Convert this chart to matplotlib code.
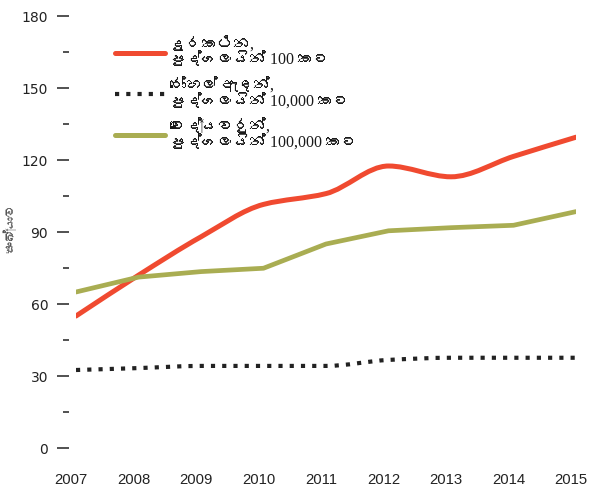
import numpy as np
import matplotlib
matplotlib.use('Agg')
import matplotlib.pyplot as plt
from matplotlib import font_manager
from matplotlib.ft2font import FT2Font
from matplotlib.path import Path
from matplotlib.patches import PathPatch

years = [2007, 2008, 2009, 2010, 2011, 2012, 2013, 2014, 2015]
phones = [55, 72, 88, 101.5, 106, 117.5, 113, 121.5, 129.5]
beds = [32.5, 33.3, 34.2, 34.2, 34.2, 36.7, 37.6, 37.6, 37.6]
doctors = [65, 71.2, 73.5, 74.9, 85, 90.5, 91.8, 92.8, 98.5]

labels = ['දුරකථන,\nපුද්ගලයින් 100 කට',
          'රෝහල් ඇඳන්,\nපුද්ගලයින් 10,000 කට',
          'වෛද්‍යවරුන්,\nපුද්ගලයින් 100,000 කට']
ylabel = 'සංඛ්‍යාව'
yticks = [0, 30, 60, 90, 120, 150, 180]

red = '#f04a30'
green = '#a9ad52'
black = '#222222'


# look for a font that can draw sinhala
def find_sinhala():
    seen = set()
    for f in font_manager.fontManager.ttflist:
        if f.fname in seen:
            continue
        seen.add(f.fname)
        try:
            cmap = FT2Font(f.fname).get_charmap()
            if 0x0D9A in cmap:
                return f.name, (0x200D in cmap)
        except Exception:
            pass
    return None, False


sin, has_zwj = find_sinhala()
if not has_zwj:
    labels = [s.replace('\u200d', '') for s in labels]
    ylabel = ylabel.replace('\u200d', '')
serif_fams = ['Liberation Serif'] + ([sin] if sin else []) + ['DejaVu Serif']
sans_fams = ['Liberation Sans'] + ([sin] if sin else []) + ['DejaVu Sans']


def monotone_path(x, y):
    # bezier path through the points with monotone slopes
    x = np.asarray(x, float)
    y = np.asarray(y, float)
    d = np.diff(y) / np.diff(x)
    m = np.zeros_like(y)
    m[0], m[-1] = d[0], d[-1]
    for i in range(1, len(y) - 1):
        if d[i - 1] * d[i] <= 0:
            m[i] = 0
        else:
            m[i] = 2 / (1 / d[i - 1] + 1 / d[i])
    verts = [(x[0], y[0])]
    codes = [Path.MOVETO]
    for i in range(len(x) - 1):
        h = (x[i + 1] - x[i]) / 3
        verts += [(x[i] + h, y[i] + m[i] * h),
                  (x[i + 1] - h, y[i + 1] - m[i + 1] * h),
                  (x[i + 1], y[i + 1])]
        codes += [Path.CURVE4] * 3
    return Path(verts, codes)


fig = plt.figure(figsize=(5.91, 4.91), dpi=100)
ax = fig.add_axes([76 / 591, 1 - 448 / 491, 500 / 591, 432 / 491])

p1 = PathPatch(monotone_path(years, phones), fill=False, edgecolor=red,
               lw=3.6, capstyle='round', joinstyle='round')
ax.add_patch(p1)
p2 = PathPatch(monotone_path(years, beds), fill=False, edgecolor=black,
               lw=3.0, linestyle=(0, (1, 1.7)), capstyle='butt')
ax.add_patch(p2)
ax.plot(years, doctors, color=green, lw=3.4, solid_capstyle='round',
        solid_joinstyle='round')

h1, = ax.plot([], [], color=red, lw=3.6, solid_capstyle='round')
h2, = ax.plot([], [], color=black, lw=3.0, linestyle=(0, (1, 1.7)))
h3, = ax.plot([], [], color=green, lw=3.6, solid_capstyle='round')
leg = ax.legend([h1, h2, h3], labels, loc='upper left',
                bbox_to_anchor=(0.078, 0.952), frameon=False,
                prop={'family': serif_fams, 'size': 11.5},
                handlelength=3.1, handletextpad=0.35, labelspacing=0.55,
                borderpad=0, borderaxespad=0)
for t in leg.get_texts():
    t.set_linespacing(0.95)
    t.set_color('#1a1a1a')

ax.set_xlim(2007, 2015)
ax.set_ylim(0, 180)
ax.set_yticks(yticks)
ax.set_yticks(np.arange(15, 180, 30), minor=True)
ax.set_yticklabels([str(v) for v in yticks], family='Liberation Sans',
                   fontsize=12)
ax.set_xticks([])
# year labels, set a little left of their points
for yr in years:
    ax.annotate(str(yr), xy=(yr, 0), xycoords=('data', 'axes fraction'),
                xytext=(-5, -25), textcoords='offset pixels',
                ha='center', va='top', family='Liberation Sans',
                fontsize=10.7, color=black, annotation_clip=False)
for s in ax.spines.values():
    s.set_visible(False)
ax.spines['left'].set_position(('outward', 5))
ax.tick_params(axis='y', which='major', length=9, width=1.1, color=black,
               pad=6, labelcolor=black)
ax.tick_params(axis='y', which='minor', length=4.5, width=1.1, color=black)

fig.text(11 / 591, 1 - 228 / 491, ylabel, rotation=90, ha='center',
         va='center', fontsize=9, color='#555555', family=sans_fams)

fig.savefig('out.png', dpi=100)
